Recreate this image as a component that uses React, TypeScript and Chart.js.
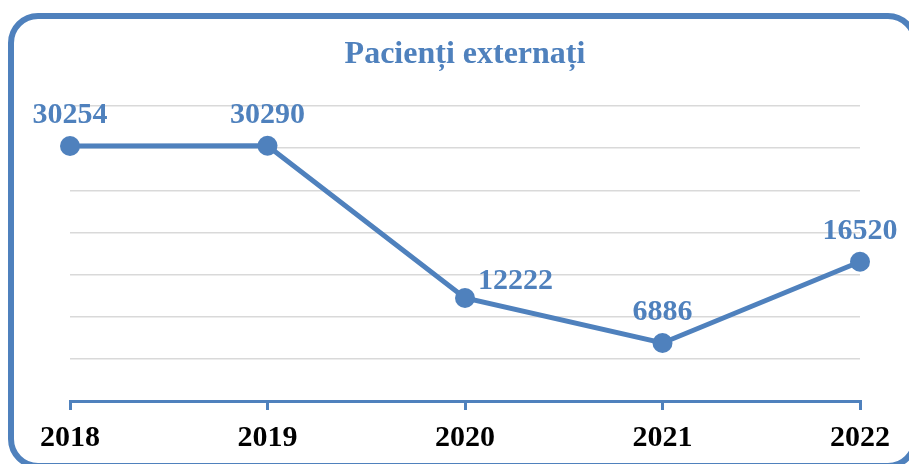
import React, { useEffect, useRef } from "react";
import { Chart, registerables } from "chart.js";

Chart.register(...registerables);

const categories = ["2018", "2019", "2020", "2021", "2022"];
const values = [30254, 30290, 12222, 6886, 16520];
const chartTitle = "Pacienți externați";
const yMin = 0;
const yMax = 35000;
const yStep = 5000;

const BLUE = "#4f81bd";
const FONT = "'Liberation Serif', 'Times New Roman', serif";

// label placement: "above" or "right"
const labelPlacement = ["above", "above", "right", "above", "above"];

const dataLabelPlugin = {
  id: "dataLabels",
  afterDatasetsDraw(chart: any) {
    const ctx = chart.ctx;
    const meta = chart.getDatasetMeta(0);
    ctx.save();
    ctx.font = `bold 30px ${FONT}`;
    ctx.fillStyle = BLUE;
    ctx.textBaseline = "alphabetic";
    meta.data.forEach((pt: any, i: number) => {
      const txt = String(values[i]);
      if (labelPlacement[i] === "right") {
        ctx.textAlign = "left";
        ctx.fillText(txt, pt.x + 13, pt.y - 9);
      } else {
        ctx.textAlign = "center";
        ctx.fillText(txt, pt.x, pt.y - 23);
      }
    });
    ctx.restore();
  },
};

export default function App() {
  const ref = useRef<HTMLCanvasElement | null>(null);
  useEffect(() => {
    if (!ref.current) return;
    const chart = new Chart(ref.current, {
      type: "line",
      data: {
        labels: categories,
        datasets: [
          {
            data: values,
            borderColor: BLUE,
            backgroundColor: BLUE,
            borderWidth: 5,
            pointRadius: 10,
            pointBackgroundColor: BLUE,
            pointBorderColor: BLUE,
            pointBorderWidth: 0,
            tension: 0,
            fill: false,
          },
        ],
      },
      options: {
        responsive: false,
        animation: false,
        events: [],
        layout: { padding: { left: 70, right: 49, top: 0, bottom: 0 } },
        plugins: {
          legend: { display: false },
          tooltip: { enabled: false },
          title: {
            display: true,
            text: chartTitle,
            color: BLUE,
            font: { family: FONT, size: 32, weight: "bold" },
            padding: { top: 36, bottom: 31.6 },
          },
        },
        scales: {
          x: {
            type: "category",
            offset: false,
            grid: {
              drawOnChartArea: false,
              drawTicks: true,
              tickLength: 9,
              color: BLUE,
              lineWidth: 3,
            },
            border: { display: true, color: BLUE, width: 3 },
            ticks: {
              color: "#000000",
              font: { family: FONT, size: 30, weight: "bold" },
              padding: 10,
              autoSkip: false,
              maxRotation: 0,
            },
            afterFit(scale: any) {
              scale.height = 63;
            },
          },
          y: {
            min: yMin,
            max: yMax,
            ticks: { display: false, stepSize: yStep },
            grid: { color: "#d9d9d9", lineWidth: 1.5, drawTicks: false },
            border: { display: false },
            afterFit(scale: any) {
              scale.width = 0;
            },
          },
        },
      },
      plugins: [dataLabelPlugin],
    });
    return () => chart.destroy();
  }, []);

  return (
    <div
      style={{
        position: "fixed",
        left: 0,
        top: 0,
        width: 909,
        height: 464,
        overflow: "hidden",
        background: "#ffffff",
      }}
    >
      <div
        style={{
          position: "absolute",
          left: 8,
          top: 13,
          width: 910,
          height: 456,
          boxSizing: "border-box",
          border: `6px solid ${BLUE}`,
          borderRadius: 30,
        }}
      />
      <canvas
        ref={ref}
        width={909}
        height={464}
        style={{ position: "absolute", left: 0, top: 0, width: 909, height: 464 }}
      />
    </div>
  );
}
